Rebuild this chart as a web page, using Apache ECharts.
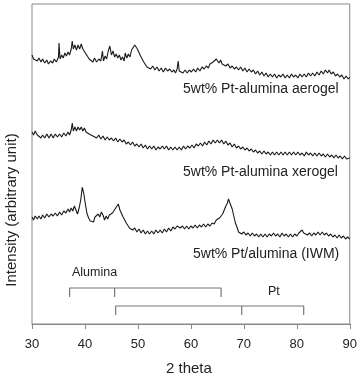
<!DOCTYPE html>
<html>
<head>
<meta charset="utf-8">
<script src="https://cdn.jsdelivr.net/npm/echarts@6/dist/echarts.min.js"></script>
<style>
  html, body { margin: 0; padding: 0; background: #fff; }
  #chart { width: 360px; height: 375px; }
</style>
</head>
<body>
<div id="chart"></div>
<script>
// 2 theta ticks
const xTicks = [30, 40, 50, 60, 70, 80, 90]

// aerogel trace [2theta, intensity offset]
const aerogel = [
  [30, 269], [30.3, 265], [30.6, 267], [31, 263], [31.3, 266], [31.7, 262], [32, 265], [32.4, 261],
  [32.8, 264], [33.1, 260], [33.5, 263], [33.9, 261], [34.2, 265], [34.6, 262], [35, 267], [35.1, 281],
  [35.3, 265], [35.6, 269], [35.9, 266], [36.2, 271], [36.5, 268], [36.8, 272], [37.1, 269], [37.4, 275],
  [37.6, 283], [37.8, 275], [38.1, 279], [38.4, 274], [38.7, 279], [39, 275], [39.3, 280], [39.6, 275],
  [39.9, 277], [40.2, 270], [40.5, 271], [40.8, 265], [41.1, 267], [41.5, 262], [41.8, 266], [42.2, 262],
  [42.6, 265], [43, 263], [43.3, 273], [43.5, 263], [43.8, 268], [44.1, 265], [44.4, 273], [44.7, 278],
  [45, 269], [45.3, 273], [45.6, 267], [45.9, 270], [46.2, 266], [46.5, 269], [46.8, 264], [47.1, 267],
  [47.4, 263], [47.6, 271], [47.9, 266], [48.2, 270], [48.5, 267], [48.8, 274], [49.1, 272], [49.4, 279],
  [49.6, 281], [49.9, 275], [50.2, 276], [50.5, 268], [50.8, 266], [51.1, 262], [51.4, 261], [51.7, 257],
  [52, 259], [52.4, 255], [52.8, 258], [53.2, 254], [53.6, 257], [54, 253], [54.4, 256], [54.8, 252],
  [55.2, 256], [55.6, 253], [56, 255], [56.4, 252], [56.8, 254], [57.1, 251], [57.4, 255], [57.6, 263],
  [57.8, 253], [58.1, 255], [58.5, 251], [58.9, 254], [59.3, 251], [59.7, 254], [60.1, 252], [60.5, 255],
  [60.9, 252], [61.3, 256], [61.7, 253], [62.1, 257], [62.5, 255], [62.9, 258], [63.3, 256], [63.6, 260],
  [63.9, 258], [64.2, 262], [64.5, 261], [64.8, 265], [65, 267], [65.3, 261], [65.6, 264], [65.9, 260],
  [66.2, 262], [66.6, 258], [67, 260], [67.4, 256], [67.8, 258], [68.2, 255], [68.6, 257], [69, 254],
  [69.4, 257], [69.8, 253], [70.2, 256], [70.6, 252], [71, 255], [71.4, 252], [71.8, 254], [72.2, 250],
  [72.6, 253], [73, 249], [73.4, 252], [73.8, 248], [74.2, 251], [74.6, 247], [75, 250], [75.4, 247],
  [75.8, 250], [76.2, 246], [76.6, 249], [77, 247], [77.4, 250], [77.8, 246], [78.2, 249], [78.6, 246],
  [79, 250], [79.4, 247], [79.8, 249], [80.2, 246], [80.6, 250], [81, 247], [81.4, 250], [81.8, 247],
  [82.2, 251], [82.6, 248], [83, 251], [83.4, 248], [83.8, 252], [84.2, 249], [84.6, 253], [85, 250],
  [85.4, 254], [85.8, 251], [86.1, 254], [86.5, 250], [86.9, 252], [87.3, 248], [87.7, 250], [88.1, 247],
  [88.5, 249], [88.9, 245], [89.3, 248], [89.7, 245], [90, 247]
]

// xerogel trace
const xerogel = [
  [30, 192], [30.3, 189], [30.6, 193], [31, 189], [31.3, 191], [31.7, 186], [32, 189], [32.4, 186],
  [32.8, 190], [33.2, 186], [33.6, 190], [34, 186], [34.4, 190], [34.8, 187], [35.2, 190], [35.6, 187],
  [36, 191], [36.4, 188], [36.8, 192], [37.1, 189], [37.4, 194], [37.6, 201], [37.8, 193], [38.1, 197],
  [38.4, 193], [38.7, 197], [39, 194], [39.3, 197], [39.6, 193], [39.9, 196], [40.2, 192], [40.5, 194],
  [40.8, 190], [41.1, 192], [41.5, 188], [41.8, 190], [42.2, 186], [42.6, 189], [43, 185], [43.4, 188],
  [43.8, 184], [44.2, 187], [44.6, 184], [45, 186], [45.4, 183], [45.8, 186], [46.2, 182], [46.6, 185],
  [47, 182], [47.4, 184], [47.8, 180], [48.2, 182], [48.6, 179], [49, 182], [49.4, 178], [49.8, 180],
  [50.2, 177], [50.6, 180], [51, 176], [51.4, 179], [51.8, 175], [52.2, 178], [52.6, 175], [53, 178],
  [53.4, 174], [53.8, 177], [54.2, 175], [54.6, 178], [55, 175], [55.4, 178], [55.8, 174], [56.2, 177],
  [56.6, 174], [57, 177], [57.4, 174], [57.8, 177], [58.2, 174], [58.6, 178], [59, 175], [59.4, 178],
  [59.8, 176], [60.2, 179], [60.6, 176], [61, 180], [61.4, 178], [61.8, 181], [62.2, 178], [62.6, 182],
  [63, 179], [63.4, 183], [63.8, 180], [64.2, 184], [64.6, 181], [65, 184], [65.4, 181], [65.8, 184],
  [66.2, 180], [66.6, 183], [67, 179], [67.4, 181], [67.8, 177], [68.2, 180], [68.6, 176], [69, 178],
  [69.4, 175], [69.8, 177], [70.2, 174], [70.6, 176], [71, 173], [71.4, 175], [71.8, 172], [72.2, 174],
  [72.6, 171], [73, 173], [73.4, 170], [73.8, 173], [74.2, 170], [74.6, 172], [75, 169], [75.4, 172],
  [75.8, 169], [76.2, 172], [76.6, 169], [77, 172], [77.4, 169], [77.8, 172], [78.2, 169], [78.6, 172],
  [79, 169], [79.4, 172], [79.8, 169], [80.2, 172], [80.6, 169], [81, 171], [81.4, 168], [81.8, 172],
  [82.2, 169], [82.6, 171], [83, 168], [83.4, 171], [83.8, 168], [84.2, 171], [84.6, 168], [85, 170],
  [85.4, 167], [85.8, 170], [86.2, 167], [86.6, 169], [87, 166], [87.4, 169], [87.8, 166], [88.2, 168],
  [88.6, 165], [89, 168], [89.4, 165], [89.7, 167], [90, 166]
]

// IWM trace
const iwm = [
  [30, 107], [30.3, 104], [30.6, 108], [31, 105], [31.3, 108], [31.7, 105], [32, 109], [32.4, 106],
  [32.8, 110], [33.2, 107], [33.6, 110], [34, 108], [34.4, 111], [34.8, 108], [35.2, 112], [35.6, 109],
  [36, 113], [36.4, 111], [36.8, 115], [37.1, 112], [37.4, 116], [37.7, 113], [38, 118], [38.3, 114],
  [38.6, 110], [38.9, 116], [39.2, 124], [39.5, 137], [39.8, 130], [40.1, 119], [40.4, 110], [40.7, 106],
  [41, 103], [41.3, 105], [41.6, 102], [41.9, 107], [42.2, 106], [42.5, 110], [42.8, 107], [43.1, 112],
  [43.4, 109], [43.7, 104], [44, 108], [44.3, 105], [44.6, 109], [44.9, 107], [45.2, 111], [45.5, 110],
  [45.8, 116], [46.1, 115], [46.3, 120], [46.6, 114], [46.9, 113], [47.2, 107], [47.5, 106], [47.8, 101],
  [48.1, 101], [48.4, 96], [48.7, 98], [49, 94], [49.4, 96], [49.8, 92], [50.2, 95], [50.6, 91],
  [51, 94], [51.4, 90], [51.8, 93], [52.2, 90], [52.6, 93], [53, 90], [53.4, 94], [53.8, 91],
  [54.2, 94], [54.6, 91], [55, 95], [55.4, 92], [55.8, 96], [56.2, 93], [56.6, 97], [57, 95],
  [57.4, 98], [57.7, 100], [58, 96], [58.4, 98], [58.8, 95], [59.2, 98], [59.6, 95], [60, 98],
  [60.4, 96], [60.8, 99], [61.2, 96], [61.6, 99], [62, 97], [62.4, 100], [62.8, 97], [63.2, 100],
  [63.6, 98], [64, 101], [64.4, 100], [64.8, 104], [65.1, 102], [65.4, 106], [65.7, 105], [66, 110],
  [66.3, 112], [66.6, 118], [66.9, 121], [67.1, 125], [67.3, 122], [67.5, 124], [67.8, 115], [68.1, 108],
  [68.4, 101], [68.7, 97], [69, 92], [69.3, 93], [69.6, 90], [70, 92], [70.4, 89], [70.8, 91],
  [71.2, 88], [71.6, 91], [72, 88], [72.4, 90], [72.8, 87], [73.2, 90], [73.6, 87], [74, 90],
  [74.4, 87], [74.8, 90], [75.2, 88], [75.6, 91], [76, 88], [76.4, 90], [76.8, 87], [77.2, 91],
  [77.6, 88], [78, 90], [78.4, 87], [78.8, 90], [79.2, 87], [79.6, 90], [80, 88], [80.4, 91],
  [80.7, 93], [81, 94], [81.3, 91], [81.6, 92], [82, 89], [82.4, 91], [82.8, 88], [83.2, 91],
  [83.6, 89], [84, 92], [84.4, 89], [84.8, 92], [85.2, 89], [85.6, 91], [86, 88], [86.4, 90],
  [86.8, 87], [87.2, 89], [87.6, 86], [88, 89], [88.4, 86], [88.8, 88], [89.2, 85], [89.6, 87],
  [90, 85]
]

// reference peak positions (brackets)
const aluminaPeaks = [37.1, 45.6, 65.7]
const ptPeaks = [45.8, 69.6, 81.3]

const chart = echarts.init(document.getElementById('chart'))

// 画标记括号：横线 + 每个峰位一根竖线
function bracketSeries(peaks, top, foot) {
  const list = [{
    type: 'line', silent: true, symbol: 'none',
    lineStyle: { color: '#777', width: 1.2 },
    data: [[peaks[0], foot], [peaks[0], top], [peaks[peaks.length - 1], top], [peaks[peaks.length - 1], foot]]
  }]
  peaks.slice(1, -1).forEach(p => {
    list.push({
      type: 'line', silent: true, symbol: 'none',
      lineStyle: { color: '#777', width: 1.2 },
      data: [[p, top], [p, foot]]
    })
  })
  return list
}

function trace(data) {
  return {
    type: 'line', symbol: 'none', silent: true,
    lineStyle: { color: '#1a1a1a', width: 1.1 },
    data: data
  }
}

const textStyle = { fill: '#222', fontFamily: 'Liberation Sans, Arial, sans-serif' }

const option = {
  animation: false,
  grid: { left: 32, right: 9, top: 4, bottom: 51, show: true, borderColor: '#888', borderWidth: 1 },
  xAxis: {
    type: 'value', min: 30, max: 90, interval: 10,
    axisLine: { lineStyle: { color: '#888' } },
    axisTick: { show: true, length: 5, lineStyle: { color: '#888' } },
    axisLabel: {
      margin: 14, fontSize: 13, color: '#222', fontFamily: 'Liberation Sans, Arial, sans-serif',
      formatter: v => xTicks.includes(v) ? String(v) : ''
    },
    splitLine: { show: false }
  },
  yAxis: {
    type: 'value', min: 0, max: 320,
    axisLine: { show: false }, axisTick: { show: false },
    axisLabel: { show: false }, splitLine: { show: false }
  },
  graphic: [
    { type: 'text', left: 183, top: 82, style: Object.assign({ text: '5wt% Pt-alumina aerogel', fontSize: 14 }, textStyle) },
    { type: 'text', left: 183, top: 165, style: Object.assign({ text: '5wt% Pt-alumina xerogel', fontSize: 14 }, textStyle) },
    { type: 'text', left: 193, top: 247, style: Object.assign({ text: '5wt% Pt/alumina (IWM)', fontSize: 14 }, textStyle) },
    { type: 'text', left: 72, top: 266, style: Object.assign({ text: 'Alumina', fontSize: 12.5 }, textStyle) },
    { type: 'text', left: 268, top: 285, style: Object.assign({ text: 'Pt', fontSize: 12.5 }, textStyle) },
    { type: 'text', left: 166, top: 361, style: Object.assign({ text: '2 theta', fontSize: 15 }, textStyle) },
    {
      type: 'text', x: 4, y: 210, rotation: Math.PI / 2,
      style: Object.assign({ text: 'Intensity (arbitrary unit)', fontSize: 15, align: 'center', verticalAlign: 'top' }, textStyle)
    }
  ],
  series: [
    trace(aerogel),
    trace(xerogel),
    trace(iwm),
    ...bracketSeries(aluminaPeaks, 36, 27),
    ...bracketSeries(ptPeaks, 18, 9)
  ]
}

chart.setOption(option)
</script>
</body>
</html>
